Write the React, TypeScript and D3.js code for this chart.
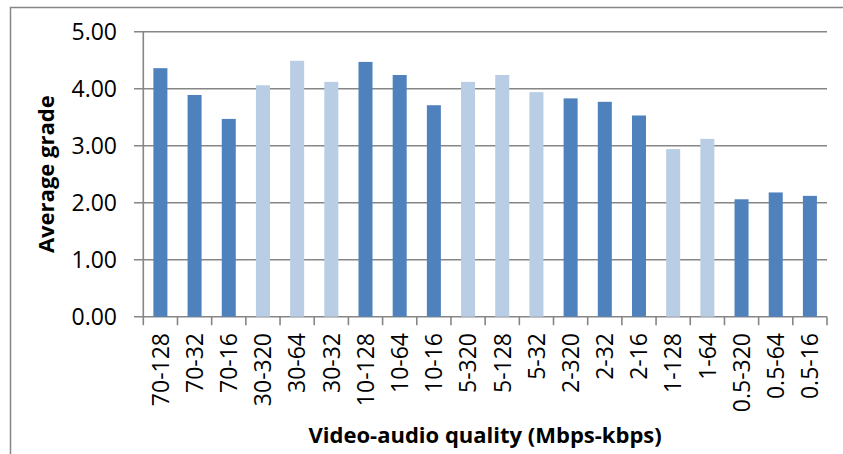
import React from "react";
import * as d3 from "d3";

const categories = [
  "70-128", "70-32", "70-16", "30-320", "30-64", "30-32", "10-128", "10-64", "10-16",
  "5-320", "5-128", "5-32", "2-320", "2-32", "2-16", "1-128", "1-64", "0.5-320", "0.5-64", "0.5-16",
];
const grades = [
  4.36, 3.89, 3.47, 4.06, 4.49, 4.12, 4.47, 4.24, 3.71,
  4.12, 4.24, 3.94, 3.83, 3.77, 3.53, 2.94, 3.12, 2.06, 2.18, 2.12,
];
const groups = ["70", "70", "70", "30", "30", "30", "10", "10", "10", "5", "5", "5", "2", "2", "2", "1", "1", "0.5", "0.5", "0.5"];
const yTicks = [0, 1, 2, 3, 4, 5];
const yTitle = "Average grade";
const xTitle = "Video-audio quality (Mbps-kbps)";

const W = 843;
const H = 454;
const left = 143.3;
const right = 827;
const top = 31.7;
const bottom = 316.7;
const FONT = "'Open Sans', 'Liberation Sans', sans-serif";
const DARK = "#4F81BD";
const LIGHT = "#B9CDE5";
const GRID = "#868686";

export default function App() {
  const x = d3.scaleBand<string>().domain(categories).range([left, right]).paddingInner(0.59).paddingOuter(0.295);
  const xb = d3.scaleBand<string>().domain(categories).range([left, right]);
  const y = d3.scaleLinear().domain([0, 5]).range([bottom, top]);
  const darkGroups = new Set(["70", "10", "2", "0.5"]);
  const boundaries = d3.range(categories.length + 1).map((i) => left + i * xb.step());

  return (
    <svg width={W} height={H} style={{ position: "absolute", left: 0, top: 0, background: "#fff" }}>
      <rect x={10.5} y={7.5} width={900} height={600} fill="#fff" stroke={GRID} strokeWidth={1.5} />
      {yTicks.map((t) => (
        <g key={t}>
          <line x1={134} x2={right} y1={y(t)} y2={y(t)} stroke={GRID} strokeWidth={1.6} />
          <text x={117} y={y(t)} dy="0.36em" textAnchor="end" fontFamily={FONT} fontSize={23} fill="#000">
            {t.toFixed(2)}
          </text>
        </g>
      ))}
      <line x1={left} x2={left} y1={top} y2={bottom} stroke={GRID} strokeWidth={1.6} />
      {boundaries.map((bx, i) => (
        <line key={i} x1={bx} x2={bx} y1={bottom} y2={bottom + 8.5} stroke={GRID} strokeWidth={1.6} />
      ))}
      {categories.map((c, i) => (
        <rect
          key={c}
          x={x(c)}
          y={y(grades[i])}
          width={x.bandwidth()}
          height={y(0) - y(grades[i])}
          fill={darkGroups.has(groups[i]) ? DARK : LIGHT}
        />
      ))}
      {categories.map((c) => {
        const cx = (xb(c) as number) + xb.bandwidth() / 2;
        return (
          <text
            key={c}
            transform={`translate(${cx},${333}) rotate(-90)`}
            dy="0.36em"
            textAnchor="end"
            fontFamily={FONT}
            fontSize={23}
            fill="#000"
          >
            {c}
          </text>
        );
      })}
      <text
        transform={`translate(${46.5},${(top + bottom) / 2}) rotate(-90)`}
        dy="0.36em"
        textAnchor="middle"
        fontFamily={FONT}
        fontWeight="bold"
        fontSize={22}
        fill="#000"
      >
        {yTitle}
      </text>
      <text
        x={(left + right) / 2}
        y={443}
        textAnchor="middle"
        fontFamily={FONT}
        fontWeight="bold"
        fontSize={22}
        fill="#000"
      >
        {xTitle}
      </text>
    </svg>
  );
}
